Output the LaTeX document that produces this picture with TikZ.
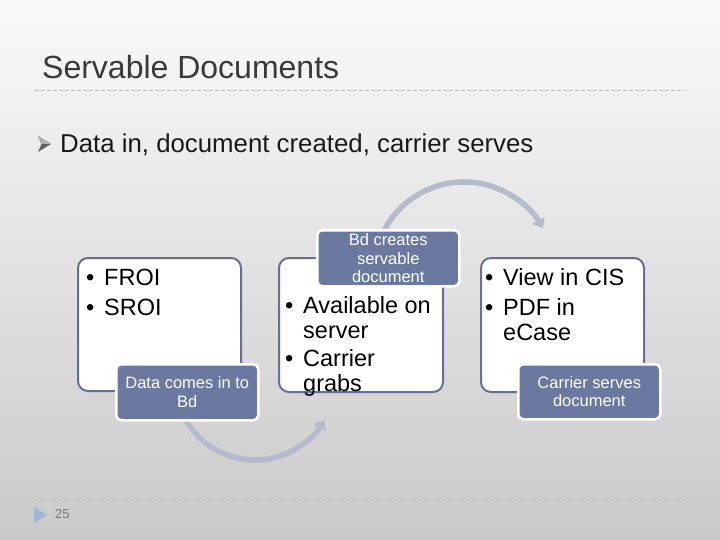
\documentclass[tikz,border=0pt]{standalone}
\usepackage{fontspec}
\setmainfont{Liberation Sans}
\usetikzlibrary{arrows.meta}
\definecolor{bordc}{HTML}{676F92}
\definecolor{labc}{HTML}{6B79A0}
\definecolor{arcc}{HTML}{B5BACD}
\definecolor{titlec}{HTML}{3A3A3A}
\definecolor{dashc}{HTML}{BDBDBD}
\definecolor{triblue}{HTML}{9DB8D6}
\definecolor{pagec}{HTML}{7A7A7A}
\begin{document}
\begin{tikzpicture}[x=1pt,y=-1pt,
  card/.style={draw=bordc, line width=2pt, fill=white, rounded corners=10pt, anchor=north west, inner sep=0pt},
  labelbox/.style={draw=white, line width=2.5pt, fill=labc, rounded corners=5pt, anchor=north west, inner sep=0pt,
    text=white, align=center, font=\fontsize{16.5}{18.5}\selectfont},
  cardtext/.style={anchor=base west, inner sep=0pt, font=\fontsize{23.5}{25}\selectfont},
  flow/.style={draw=arcc, line width=5.5pt, -{Triangle[length=9pt,width=14pt]}},
  rulestyle/.style={draw=dashc, line width=0.8pt, dash pattern=on 4pt off 2pt}
]
\shade[top color=white!98!black, bottom color=white!79!black] (0,0) rectangle (720,540);
\useasboundingbox (0,0) rectangle (720,540);

% title and rule
\node[anchor=base west, inner sep=0pt, text=titlec, font=\fontsize{32}{32}\selectfont] (title) at (42,79) {Servable Documents};
\coordinate (r1a) at (35,90);
\coordinate (r1b) at (685,90);
\draw[rulestyle] (r1a) -- (r1b);

% first-level bullet
\fill[titlec!80] (38,136) -- (51,144) -- (38,152) -- (41.5,144) -- cycle;
\fill[titlec!40] (38,136) -- (51,144) -- (41.5,144) -- cycle;
\node[anchor=base west, inner sep=0pt, text=black!90, font=\fontsize{25.8}{27}\selectfont] (sub) at (60,153) {Data in, document created, carrier serves};

% cards
\node[card, minimum width=163pt, minimum height=133pt] (c1) at (77,257) {};
\node[card, minimum width=164pt, minimum height=134pt] (c2) at (278,257) {};
\node[card, minimum width=163pt, minimum height=134pt] (c3) at (480,257) {};

% curved arrows
\coordinate (a1c) at (255,380);
\coordinate (a2c) at (464,272);
\draw[flow] ([shift={(160:80)}]a1c) arc[start angle=160, end angle=30, radius=80];
\draw[flow] ([shift={(-155:90)}]a2c) arc[start angle=-155, end angle=-29, radius=90];

% label boxes
\node[labelbox, minimum width=142pt, minimum height=56pt] (l1) at (115,363) {Data comes in to\\Bd};
\node[labelbox, minimum width=142pt, minimum height=56pt] (l2) at (316,229) {Bd creates\\servable\\document};
\node[labelbox, minimum width=142pt, minimum height=55pt] (l3) at (517,363) {Carrier serves\\document};

% card texts
\node[cardtext] (t1a) at (86,285) {\makebox[18pt][l]{\textbullet}FROI};
\node[cardtext] (t1b) at (86,315) {\makebox[18pt][l]{\textbullet}SROI};
\node[cardtext] (t2a) at (285,313) {\makebox[18pt][l]{\textbullet}Available on};
\node[cardtext] (t2b) at (303,338) {server};
\node[cardtext] (t2c) at (285,366) {\makebox[18pt][l]{\textbullet}Carrier};
\node[cardtext] (t2d) at (303,391) {grabs};
\node[cardtext] (t3a) at (485,285) {\makebox[18pt][l]{\textbullet}View in CIS};
\node[cardtext] (t3b) at (485,315) {\makebox[18pt][l]{\textbullet}PDF in};
\node[cardtext] (t3c) at (503,340) {eCase};

% footer
\coordinate (r2a) at (34,500);
\coordinate (r2b) at (686,500);
\draw[rulestyle] (r2a) -- (r2b);
\fill[triblue] (34,507) -- (47,515) -- (34,523) -- cycle;
\node[anchor=base west, inner sep=0pt, text=pagec, font=\fontsize{13}{13}\selectfont] (pg) at (55,518) {25};
\end{tikzpicture}
\end{document}
